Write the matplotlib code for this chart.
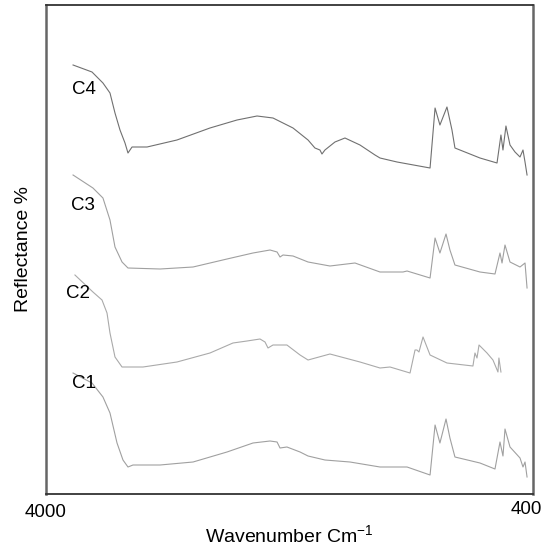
import matplotlib
matplotlib.use("Agg")
import matplotlib.pyplot as plt
import matplotlib.transforms as mtransforms

plt.rcParams['font.family'] = ['Liberation Sans', 'DejaVu Sans']

# Wavenumber (cm-1) and reflectance (arbitrary offset units) for each sample
c4_w = [3800, 3660, 3579, 3527, 3490, 3453, 3416, 3394, 3364, 3253, 3032, 2788, 2588, 2440, 2322,
        2174, 2063, 2012, 1975, 1960, 1938, 1864, 1790, 1679, 1568, 1531, 1405, 1161, 1124, 1088,
        1036, 999, 977, 792, 666, 637, 622, 600, 570, 533, 496, 474, 459, 444]
c4_r = [429, 422, 411, 401, 381, 364, 351, 341, 347, 347, 354, 366, 374, 378, 376,
        366, 354, 346, 344, 340, 344, 352, 356, 349, 339, 336, 332, 326, 386, 369,
        387, 364, 346, 336, 331, 359, 344, 368, 349, 342, 337, 344, 332, 319]

c3_w = [3800, 3653, 3579, 3527, 3490, 3438, 3394, 3157, 2913, 2662, 2470, 2344, 2292, 2270, 2248,
        2174, 2063, 1901, 1716, 1531, 1361, 1331, 1161, 1124, 1088, 1043, 1014, 977, 792, 681,
        644, 629, 607, 570, 496, 459, 444]
c3_r = [319, 306, 296, 274, 247, 232, 226, 225, 227, 235, 241, 244, 242, 237, 239,
        238, 232, 228, 231, 222, 222, 223, 216, 256, 241, 260, 244, 229, 222, 220,
        241, 231, 249, 232, 227, 231, 206]

c2_w = [3786, 3653, 3586, 3549, 3527, 3490, 3438, 3283, 3032, 2788, 2618, 2514, 2418, 2381, 2359,
        2322, 2219, 2122, 2063, 1901, 1679, 1531, 1457, 1309, 1272, 1258, 1243, 1213, 1161, 1036,
        844, 829, 814, 799, 740, 696, 659, 652, 637]
c2_r = [219, 202, 194, 181, 161, 137, 127, 127, 132, 141, 151, 153, 155, 152, 146,
        149, 149, 139, 134, 140, 132, 126, 127, 121, 144, 144, 142, 157, 139, 131,
        128, 141, 136, 149, 141, 134, 122, 136, 122]

c1_w = [3800, 3660, 3579, 3527, 3475, 3431, 3394, 3357, 3157, 2913, 2662, 2470, 2344, 2292, 2270,
        2219, 2122, 2063, 1938, 1753, 1531, 1331, 1161, 1124, 1088, 1043, 1014, 977, 792, 681,
        644, 622, 607, 570, 496, 474, 459, 444]
c1_r = [121, 111, 97, 81, 51, 34, 27, 29, 29, 32, 42, 51, 53, 52, 46,
        47, 42, 38, 34, 32, 27, 27, 19, 69, 51, 75, 56, 37, 31, 25,
        52, 38, 65, 47, 36, 27, 32, 17]

series = [("C4", c4_w, c4_r, "#707070"),
          ("C3", c3_w, c3_r, "#a0a0a0"),
          ("C2", c2_w, c2_r, "#aaaaaa"),
          ("C1", c1_w, c1_r, "#a0a0a0")]
label_pos = {"C4": (3720, 404), "C3": (3727, 288), "C2": (3760, 200), "C1": (3720, 111)}

tick_values = [4000, 400]
tick_labels = ["4000", "400"]

fig = plt.figure(figsize=(5.56, 5.47), dpi=100)
ax = fig.add_axes([46/556, 1-494/547, (533-46)/556, (494-5)/547])

for name, w, r, col in series:
    ax.plot(w, r, color=col, lw=0.8)
    lx, ly = label_pos[name]
    ax.text(lx, ly, name, fontsize=13.5, ha='center', va='center', color='black')

ax.set_xlim(4000, 400)
ax.set_ylim(0, 489)
ax.set_xticks(tick_values)
ax.set_xticklabels(tick_labels, fontsize=13.5)
ax.tick_params(axis='x', length=0, pad=7)
ax.set_yticks([])
ax.set_xlabel(r'Wavenumber Cm$^{\mathregular{-1}}$', fontsize=14, labelpad=3)
ax.set_ylabel('Reflectance %', fontsize=14, labelpad=10)

# shift the "400" label slightly left/up like the reference
lbl = ax.get_xticklabels()[1]
lbl.set_transform(lbl.get_transform() + mtransforms.ScaledTranslation(-7/100, 3/100, fig.dpi_scale_trans))

for s in ['left', 'right']:
    ax.spines[s].set_color('#666666')
    ax.spines[s].set_linewidth(1.8)
for s in ['top', 'bottom']:
    ax.spines[s].set_color('#333333')
    ax.spines[s].set_linewidth(1.3)

fig.savefig("out.png", dpi=100)
